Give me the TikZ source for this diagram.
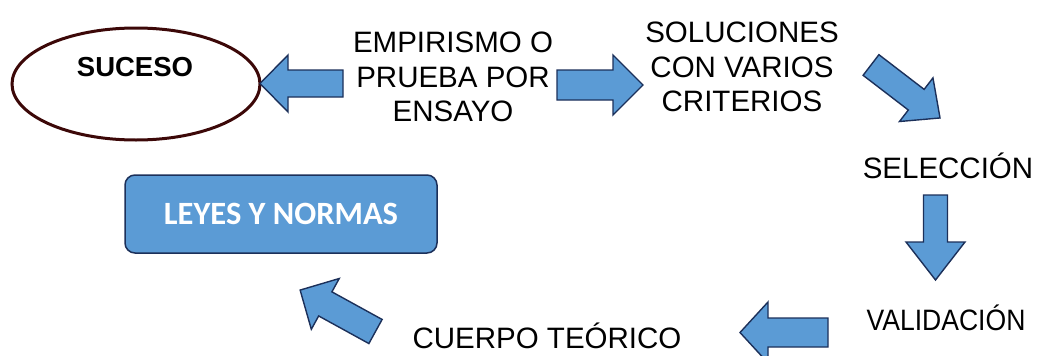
\documentclass[tikz,border=0pt]{standalone}
\usepackage{fontspec}
\setmainfont{Liberation Sans}
\newfontfamily\boxfont{Carlito}
\definecolor{arrowfill}{RGB}{91,155,213}
\definecolor{arrowline}{RGB}{28,48,90}
\definecolor{ellline}{RGB}{60,8,8}
\tikzset{
  arrowstyle/.style={fill=arrowfill, draw=arrowline, line width=1.4pt, line join=miter},
  pics/barrow/.style n args={4}{code={
    \draw[arrowstyle] (0,-#2/2) -- (#1-#4,-#2/2) -- (#1-#4,-#3/2) -- (#1,0)
      -- (#1-#4,#3/2) -- (#1-#4,#2/2) -- (0,#2/2) -- cycle;}},
  label/.style={font=\fontsize{29.5}{34.5}\selectfont, align=center, inner sep=0pt},
}
\begin{document}
\begin{tikzpicture}[x=1pt,y=1pt]
\useasboundingbox (0,0) rectangle (1047,-356);
% event ellipse
\draw[ellline, line width=3pt] (136,-84) ellipse [x radius=124, y radius=56];
\node[font=\fontsize{27.5}{30}\selectfont\bfseries, inner sep=0pt] (suceso) at (135,-67) {SUCESO};
% texts
\node[label] (emp) at (453,-77) {EMPIRISMO O\\PRUEBA POR\\ENSAYO};
\node[label] (sol) at (742,-67) {SOLUCIONES\\CON VARIOS\\CRITERIOS};
\node[label] (sel) at (948,-166) {SELECCIÓN};
\node[label, xscale=0.9] (val) at (946,-318) {VALIDACIÓN};
\node[label] (cue) at (547,-336) {CUERPO TEÓRICO};
% laws box
\node[draw=arrowline, fill=arrowfill, line width=1.5pt, rounded corners=10pt,
      minimum width=312pt, minimum height=78pt, inner sep=0pt,
      text=white, font=\boxfont\bfseries\fontsize{32.5}{36}\selectfont] (leyes) at (281,-214) {LEYES Y NORMAS};
% block arrows
\pic[rotate=180] at (343,-83.5) {barrow={83}{27}{57}{28}};
\pic at (557,-85) {barrow={86}{30}{60}{30}};
\pic[rotate=-37.5] at (871,-65) {barrow={87}{26}{55}{30}};
\pic[rotate=-90] at (935.5,-195) {barrow={85}{24}{59}{38}};
\pic[rotate=180] at (828,-332.5) {barrow={88}{29}{61}{28}};
\pic[rotate=151.2] at (375.5,-331.5) {barrow={86}{27.5}{58}{28.7}};
\end{tikzpicture}
\end{document}
